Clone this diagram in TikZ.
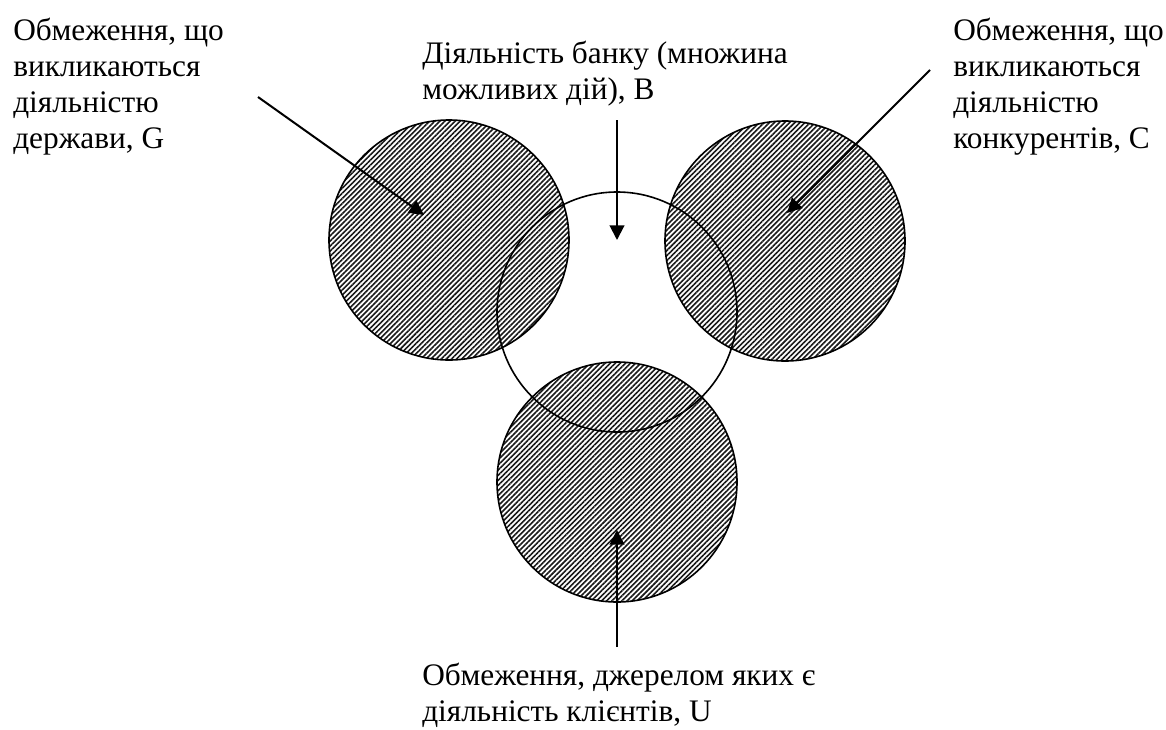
\documentclass[tikz,border=0pt]{standalone}
\usepackage{fontspec}
\setmainfont{Liberation Serif}
\usetikzlibrary{arrows.meta, patterns.meta}

\tikzset{
  zone/.style={circle, draw, line width=1.2pt, minimum size=180pt, inner sep=0pt,
    pattern={Lines[angle=45, distance=2.7pt, line width=1.2pt]}, pattern color=black!90},
  bank/.style={circle, draw, line width=1.2pt, minimum size=180pt, inner sep=0pt},
  lbl/.style={align=left, inner sep=0pt, font=\fontsize{23.5}{27}\selectfont},
  pointer/.style={-{Triangle[length=11pt, width=11pt]}, line width=1.5pt}
}

\begin{document}
\begin{tikzpicture}[x=0.75pt, y=-0.75pt]
  \useasboundingbox (0,0) rectangle (1166,729);
  % restriction zones
  \node[zone] (G) at (449,240) {};
  \node[zone] (C) at (785,241) {};
  \node[zone] (U) at (617,482) {};
  \node[bank] (B) at (617,312) {};
  % labels
  \node[lbl, anchor=north west] (tG) at (13,18)  {Обмеження, що\\викликаються\\діяльністю\\держави, G};
  \node[lbl, anchor=north west] (tC) at (953,18) {Обмеження, що\\викликаються\\діяльністю\\конкурентів, C};
  \node[lbl, anchor=north west] (tB) at (422,41) {Діяльність банку (множина\\можливих дій), B};
  \node[lbl, anchor=north west] (tU) at (422,663) {Обмеження, джерелом яких є\\діяльність клієнтів, U};
  % arrow ends
  \coordinate (g0) at (258,97);  \coordinate (g1) at (424,215);
  \coordinate (c0) at (930,70);  \coordinate (c1) at (787,213);
  \coordinate (b0) at (617,120); \coordinate (b1) at (617,240);
  \coordinate (u0) at (617,647); \coordinate (u1) at (617,530);
  \path[pointer] (g0) edge (g1)
                 (c0) edge (c1)
                 (b0) edge (b1)
                 (u0) edge (u1);
\end{tikzpicture}
\end{document}
